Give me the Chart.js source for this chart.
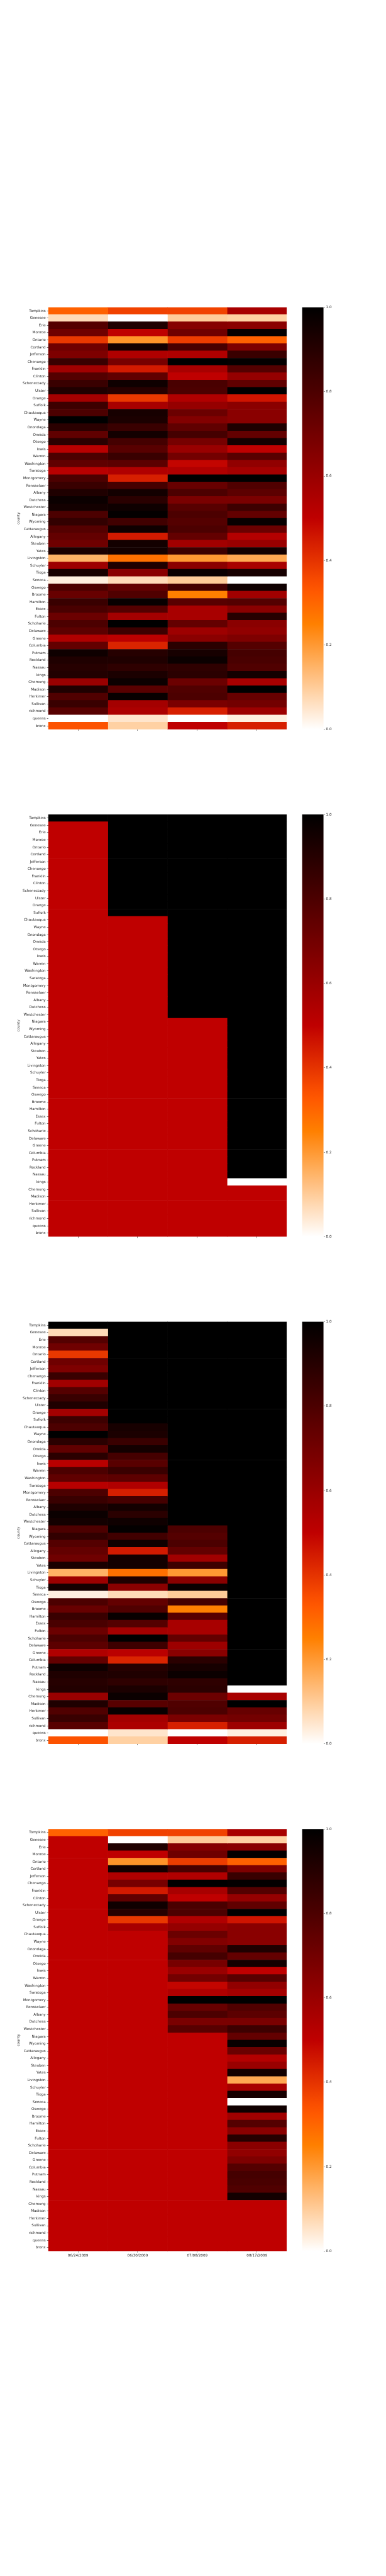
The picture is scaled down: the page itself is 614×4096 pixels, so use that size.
<!DOCTYPE html>
<html>
<head>
<meta charset="utf-8">
<script src="https://cdn.jsdelivr.net/npm/chart.js@4.4.1/dist/chart.umd.min.js"></script>
<style>
  html, body { margin: 0; padding: 0; background: #fff; }
  #page { position: relative; width: 614px; height: 4096px; overflow: hidden; }
  #page canvas { position: absolute; }
</style>
</head>
<body>
<div id="page"></div>
<script>
// row / column labels
const counties = [
  "Tompkins", "Genesee", "Erie", "Monroe", "Ontario", "Cortland", "Jefferson", "Chenango", "Franklin", "Clinton",
  "Schenectady", "Ulster", "Orange", "Suffolk", "Chautauqua", "Wayne", "Onondaga", "Oneida", "Otsego", "lewis",
  "Warren", "Washington", "Saratoga", "Montgomery", "Rensselaer", "Albany", "Dutchess", "Westchester", "Niagara", "Wyoming",
  "Cattaraugus", "Allegany", "Steuben", "Yates", "Livingston", "Schuyler", "Tioga", "Seneca", "Oswego", "Broome",
  "Hamilton", "Essex", "Fulton", "Schoharie", "Delaware", "Greene", "Columbia", "Putnam", "Rockland", "Nassau",
  "kings", "Chemung", "Madison", "Herkimer", "Sullivan", "richmond", "queens", "bronx"
];
const weeks = ["06/24/2009", "06/30/2009", "07/08/2009", "08/17/2009"];
const cbarTicks = ["0.0", "0.2", "0.4", "0.6", "0.8", "1.0"];

// panel 1 (one array per week, rows in county order)
const p1w1 = [0.31,0.07,0.78,0.71,0.39,0.71,0.67,0.85,0.58,0.78, 0.85,0.92,0.57,0.84,0.80,1.00,0.89,0.75,0.89,0.52,
  0.80,0.75,0.52,0.80,0.85,0.92,0.97,0.95,0.80,0.87, 0.78,0.74,0.71,0.93,0.15,0.59,0.94,0.03,0.80,0.73,
  0.85,0.81,0.72,0.80,0.76,0.54,0.74,0.96,0.92,0.90, 0.91,0.60,0.92,0.79,0.85,0.77,0.00,0.34];
const p1w2 = [0.37,0.00,0.92,0.50,0.21,0.95,0.54,0.69,0.45,0.75, 0.96,0.90,0.39,0.56,0.94,0.93,0.85,0.95,0.82,0.77,
  0.85,0.76,0.54,0.44,0.82,0.95,0.89,0.96,0.99,0.83, 0.96,0.45,0.95,0.95,0.28,0.92,0.64,0.07,0.74,0.79,
  0.98,0.78,0.57,1.00,0.84,0.51,0.43,0.90,0.92,0.88, 0.93,0.97,0.77,0.98,0.57,0.55,0.05,0.09];
const p1w3 = [0.37,0.10,0.65,0.71,0.38,0.81,0.54,1.00,0.56,0.50, 0.81,0.80,0.54,0.61,0.72,0.66,0.75,0.82,0.69,0.60,
  0.70,0.49,0.54,1.00,0.73,0.80,0.68,0.77,0.80,0.78, 0.80,0.74,0.58,0.84,0.20,0.64,0.97,0.10,0.82,0.25,
  0.77,0.56,0.56,0.74,0.59,0.64,0.89,0.94,0.97,0.88, 0.89,0.72,0.79,0.80,0.68,0.44,0.00,0.50];
const p1w4 = [0.56,0.09,0.64,0.99,0.31,0.67,0.85,0.99,0.78,0.61, 0.75,1.00,0.46,0.64,0.64,0.64,0.92,0.74,0.95,0.50,
  0.77,0.62,0.57,1.00,0.79,0.76,0.68,0.84,0.74,0.98, 0.72,0.53,0.60,0.95,0.17,0.56,0.94,0.00,0.96,0.58,
  0.78,0.64,0.90,0.64,0.62,0.67,0.78,0.82,0.81,0.79, 0.95,0.56,1.00,0.73,0.70,0.59,0.03,0.44];

// panel 2
const p2w1 = [1,0.5,0.5,0.5,0.5,0.5,0.5,0.5,0.5,0.5, 0.5,0.5,0.5,0.5,0.5,0.5,0.5,0.5,0.5,0.5,
  0.5,0.5,0.5,0.5,0.5,0.5,0.5,0.5,0.5,0.5, 0.5,0.5,0.5,0.5,0.5,0.5,0.5,0.5,0.5,0.5,
  0.5,0.5,0.5,0.5,0.5,0.5,0.5,0.5,0.5,0.5, 0.5,0.5,0.5,0.5,0.5,0.5,0.5,0.5];
const p2w2 = [1,1,1,1,1,1,1,1,1,1, 1,1,1,1,0.5,0.5,0.5,0.5,0.5,0.5,
  0.5,0.5,0.5,0.5,0.5,0.5,0.5,0.5,0.5,0.5, 0.5,0.5,0.5,0.5,0.5,0.5,0.5,0.5,0.5,0.5,
  0.5,0.5,0.5,0.5,0.5,0.5,0.5,0.5,0.5,0.5, 0.5,0.5,0.5,0.5,0.5,0.5,0.5,0.5];
const p2w3 = [1,1,1,1,1,1,1,1,1,1, 1,1,1,1,1,1,1,1,1,1,
  1,1,1,1,1,1,1,1,0.5,0.5, 0.5,0.5,0.5,0.5,0.5,0.5,0.5,0.5,0.5,0.5,
  0.5,0.5,0.5,0.5,0.5,0.5,0.5,0.5,0.5,0.5, 0.5,0.5,0.5,0.5,0.5,0.5,0.5,0.5];
const p2w4 = [1,1,1,1,1,1,1,1,1,1, 1,1,1,1,1,1,1,1,1,1,
  1,1,1,1,1,1,1,1,1,1, 1,1,1,1,1,1,1,1,1,1,
  1,1,1,1,1,1,1,1,1,1, 0,0.5,0.5,0.5,0.5,0.5,0.5,0.5];

// panel 3
const p3w1 = [1.00,0.07,0.78,0.71,0.39,0.71,0.67,0.85,0.58,0.78, 0.85,0.92,0.57,0.84,0.80,1.00,0.89,0.75,0.89,0.52,
  0.80,0.75,0.52,0.80,0.85,0.92,0.97,0.95,0.80,0.87, 0.78,0.74,0.71,0.93,0.15,0.59,0.94,0.03,0.80,0.73,
  0.85,0.81,0.72,0.80,0.76,0.54,0.74,0.96,0.92,0.90, 0.91,0.60,0.92,0.79,0.85,0.77,0.00,0.34];
const p3w2 = [1,1,1,1,1,1,1,1,1,1, 1,1,1,1,0.94,0.93,0.85,0.95,0.82,0.77,
  0.85,0.76,0.54,0.44,0.82,0.95,0.89,0.96,0.99,0.83, 0.96,0.45,0.95,0.95,0.28,0.92,0.64,0.07,0.74,0.79,
  0.98,0.78,0.57,1.00,0.84,0.51,0.43,0.90,0.92,0.88, 0.93,0.97,0.77,0.98,0.57,0.55,0.05,0.09];
const p3w3 = [1,1,1,1,1,1,1,1,1,1, 1,1,1,1,1,1,1,1,1,1,
  1,1,1,1,1,1,1,1,0.80,0.78, 0.80,0.74,0.58,0.84,0.20,0.64,0.97,0.10,0.82,0.25,
  0.77,0.56,0.56,0.74,0.59,0.64,0.89,0.94,0.97,0.88, 0.89,0.72,0.79,0.80,0.68,0.44,0.00,0.50];
const p3w4 = [1,1,1,1,1,1,1,1,1,1, 1,1,1,1,1,1,1,1,1,1,
  1,1,1,1,1,1,1,1,1,1, 1,1,1,1,1,1,1,1,1,1,
  1,1,1,1,1,1,1,1,1,1, 0,0.56,1.00,0.73,0.70,0.59,0.03,0.44];

// panel 4
const p4w1 = [0.31,0.5,0.5,0.5,0.5,0.5,0.5,0.5,0.5,0.5, 0.5,0.5,0.5,0.5,0.5,0.5,0.5,0.5,0.5,0.5,
  0.5,0.5,0.5,0.5,0.5,0.5,0.5,0.5,0.5,0.5, 0.5,0.5,0.5,0.5,0.5,0.5,0.5,0.5,0.5,0.5,
  0.5,0.5,0.5,0.5,0.5,0.5,0.5,0.5,0.5,0.5, 0.5,0.5,0.5,0.5,0.5,0.5,0.5,0.5];
const p4w2 = [0.37,0.00,0.92,0.50,0.21,0.95,0.54,0.69,0.45,0.75, 0.96,0.90,0.39,0.56,0.5,0.5,0.5,0.5,0.5,0.5,
  0.5,0.5,0.5,0.5,0.5,0.5,0.5,0.5,0.5,0.5, 0.5,0.5,0.5,0.5,0.5,0.5,0.5,0.5,0.5,0.5,
  0.5,0.5,0.5,0.5,0.5,0.5,0.5,0.5,0.5,0.5, 0.5,0.5,0.5,0.5,0.5,0.5,0.5,0.5];
const p4w3 = [0.37,0.10,0.65,0.71,0.38,0.81,0.54,1.00,0.56,0.50, 0.81,0.80,0.54,0.61,0.72,0.66,0.75,0.82,0.69,0.60,
  0.70,0.49,0.54,1.00,0.73,0.80,0.68,0.77,0.5,0.5, 0.5,0.5,0.5,0.5,0.5,0.5,0.5,0.5,0.5,0.5,
  0.5,0.5,0.5,0.5,0.5,0.5,0.5,0.5,0.5,0.5, 0.5,0.5,0.5,0.5,0.5,0.5,0.5,0.5];
const p4w4 = [0.56,0.09,0.64,0.99,0.31,0.67,0.85,0.99,0.78,0.61, 0.75,1.00,0.46,0.64,0.64,0.64,0.92,0.74,0.95,0.50,
  0.77,0.62,0.57,1.00,0.79,0.76,0.68,0.84,0.74,0.98, 0.72,0.53,0.60,0.95,0.17,0.56,0.94,0.00,0.96,0.58,
  0.78,0.64,0.90,0.64,0.62,0.67,0.78,0.82,0.81,0.79, 0.95,0.5,0.5,0.5,0.5,0.5,0.5,0.5];

// layout, in reference pixels scaled to the window
const S = 0.568;
const FONT = { family: "'DejaVu Sans', sans-serif", size: 10 * S };
const TEXT = "#262626";
const PLOT_LEFT = 135 * S;
const PLOT_RIGHT = 803 * S;
const PLOT_H = 1182 * S;
const PANEL_TOPS = [860, 2280, 3700, 5120].map(v => v * S);
const CBAR_LEFT = 846 * S;
const CBAR_W = 60 * S;
const TICK_LEN = 3.5 * S;

// gist_heat reversed: 0 -> white, 1 -> black
function heatColor(v) {
  const t = 1 - v;
  const r = Math.min(1, 1.5 * t);
  const g = Math.max(0, Math.min(1, 2 * t - 1));
  const b = Math.max(0, Math.min(1, 4 * t - 3));
  return `rgb(${Math.round(r * 255)},${Math.round(g * 255)},${Math.round(b * 255)})`;
}

function addCanvas(left, top, w, h) {
  const c = document.createElement("canvas");
  c.width = w;
  c.height = h;
  c.style.left = left + "px";
  c.style.top = top + "px";
  c.style.width = w + "px";
  c.style.height = h + "px";
  document.getElementById("page").appendChild(c);
  return c;
}

function drawHeatmap(top, columns, showDates) {
  const canvasTop = Math.floor(top) - 6;
  const padTop = top - canvasTop;
  const axisH = 20;
  const h = Math.ceil(padTop + PLOT_H + axisH + 2);
  const padBottom = h - padTop - PLOT_H - axisH;
  const w = Math.ceil(PLOT_RIGHT) + 2;
  const padLeft = 26;

  new Chart(addCanvas(0, canvasTop, w, h), {
    type: "bar",
    data: {
      labels: counties,
      datasets: columns.map(vals => ({
        data: vals.map(() => 1),
        backgroundColor: vals.map(heatColor),
        borderWidth: 0,
        barPercentage: 1,
        categoryPercentage: 1
      }))
    },
    options: {
      indexAxis: "y",
      responsive: false,
      animation: false,
      layout: { padding: { left: padLeft, top: padTop, bottom: padBottom, right: w - PLOT_RIGHT } },
      plugins: { legend: { display: false }, tooltip: { enabled: false } },
      scales: {
        x: {
          type: "linear",
          stacked: true,
          min: 0,
          max: 4,
          afterBuildTicks: s => { s.ticks = weeks.map((d, i) => ({ value: i + 0.5 })); },
          afterFit: s => { s.height = axisH; },
          ticks: {
            callback: (v, i) => (showDates ? weeks[i] : ""),
            maxRotation: 0,
            autoSkip: false,
            font: FONT,
            color: TEXT,
            padding: 2
          },
          grid: { drawOnChartArea: false, tickLength: TICK_LEN, tickColor: TEXT, tickWidth: 0.6 },
          border: { display: false }
        },
        y: {
          stacked: true,
          afterFit: s => { s.width = PLOT_LEFT - padLeft; },
          ticks: { autoSkip: false, font: FONT, color: TEXT, padding: 2 },
          grid: { offset: false, drawOnChartArea: false, tickLength: TICK_LEN, tickColor: TEXT, tickWidth: 0.6 },
          border: { display: false },
          title: { display: true, text: "county", font: FONT, color: TEXT, padding: 0 }
        }
      }
    }
  });
}

function drawColorbar(top) {
  const canvasTop = Math.floor(top) - 6;
  const padTop = top - canvasTop;
  const left = Math.floor(CBAR_LEFT);
  const padLeft = CBAR_LEFT - left;
  const axisW = 30;
  const w = Math.ceil(padLeft + CBAR_W + axisW + 1);
  const h = Math.ceil(padTop + PLOT_H + 6);

  new Chart(addCanvas(left, canvasTop, w, h), {
    type: "bar",
    data: {
      labels: [""],
      datasets: [{
        data: [[0, 1]],
        backgroundColor: ctx => {
          const chart = ctx.chart;
          if (!chart.chartArea) return "#000";
          const y = chart.scales.y;
          const g = chart.ctx.createLinearGradient(0, y.getPixelForValue(0), 0, y.getPixelForValue(1));
          for (let i = 0; i <= 40; i++) g.addColorStop(i / 40, heatColor(i / 40));
          return g;
        },
        borderWidth: 0,
        barPercentage: 1,
        categoryPercentage: 1
      }]
    },
    options: {
      responsive: false,
      animation: false,
      layout: { padding: { left: padLeft, top: padTop, bottom: h - padTop - PLOT_H, right: w - padLeft - CBAR_W - axisW } },
      plugins: { legend: { display: false }, tooltip: { enabled: false } },
      scales: {
        x: { display: false },
        y: {
          position: "right",
          min: 0,
          max: 1,
          afterFit: s => { s.width = axisW; },
          ticks: { stepSize: 0.2, callback: (v, i) => cbarTicks[i], font: FONT, color: TEXT, padding: 2 },
          grid: { drawOnChartArea: false, tickLength: TICK_LEN, tickColor: TEXT, tickWidth: 0.6 },
          border: { display: false }
        }
      }
    }
  });
}

const panels = [
  [p1w1, p1w2, p1w3, p1w4],
  [p2w1, p2w2, p2w3, p2w4],
  [p3w1, p3w2, p3w3, p3w4],
  [p4w1, p4w2, p4w3, p4w4]
];

panels.forEach((cols, i) => {
  drawHeatmap(PANEL_TOPS[i], cols, i === panels.length - 1);
  drawColorbar(PANEL_TOPS[i]);
});
</script>
</body>
</html>
